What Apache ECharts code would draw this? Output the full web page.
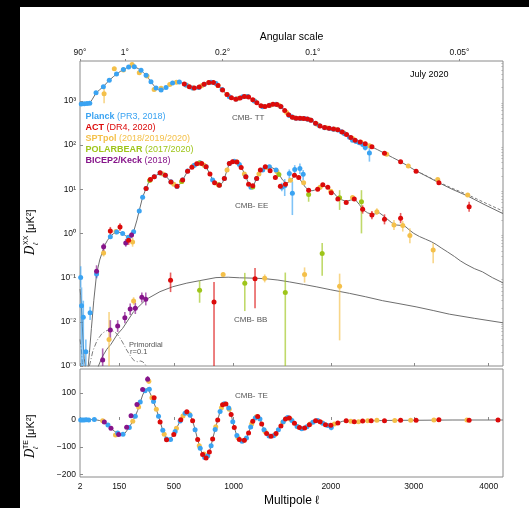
<!DOCTYPE html>
<html><head><meta charset="utf-8">
<script src="https://cdn.jsdelivr.net/npm/echarts@6/dist/echarts.min.js"></script>
<style>html,body{margin:0;padding:0;background:#fff;}#c{width:529px;height:508px;}</style>
</head><body><div id="c"></div>
<script>
// Multipole axis is drawn on an l^0.7 stretch so low and high l both get room.
const POW = 0.7;
const fx = l => Math.pow(l, POW);
const L_MIN = 2, L_MAX = 4200;
const L_TICKS = [2, 150, 500, 1000, 2000, 3000, 4000];
const ANGLE_LABELS = ['90°', '1°', '0.2°', '0.1°', '0.05°'];
const ANGLE_L = [2, 180, 900, 1800, 3600];
const LOG_TICKS = [1e-3, 1e-2, 1e-1, 1, 10, 100, 1000];
const TE_TICKS = [-200, -100, 0, 100];

const COL = { planck: '#3aa3f2', act: '#dc0a0a', spt: '#f4c04a', pb: '#9ec51a', bk: '#86148a' };

// ---- theory spectra [l, D_l] ----
const TT_TH = [[2,860],[5,850],[10,860],[18,870],[25,900],[32,1050],[46,1500],[60,1780],[75,2100],[90,2550],[101,2900],[120,3500],[136,4000],[155,4600],[172,5100],[190,5550],[205,5800],[222,5900],[240,5750],[258,5350],[275,4900],[290,4350],[307,3800],[323,3200],[339,2700],[356,2250],[373,1950],[390,1780],[408,1740],[425,1820],[443,1980],[465,2250],[491,2500],[515,2620],[542,2650],[568,2500],[593,2300],[620,2080],[646,1950],[670,1940],[695,2020],[720,2200],[742,2380],[770,2550],[799,2620],[820,2580],[842,2450],[870,2100],[896,1800],[930,1450],[961,1250],[990,1130],[1023,1090],[1055,1150],[1085,1230],[1110,1250],[1132,1240],[1165,1130],[1196,1000],[1240,830],[1277,740],[1310,750],[1344,790],[1380,830],[1411,830],[1440,790],[1461,740],[1500,600],[1548,470],[1580,425],[1618,405],[1665,400],[1710,395],[1745,385],[1780,365],[1830,310],[1873,270],[1930,248],[1985,238],[2030,230],[2080,220],[2120,200],[2157,183],[2214,155],[2292,125],[2391,108],[2471,92],[2550,78],[2633,65],[2733,52],[2833,42],[2930,33],[3029,26],[3180,19],[3325,14],[3500,10],[3711,7.0],[3950,4.4],[4200,2.8]];
// high-l tail of the alternative TT model (dashed)
const TT_TH_ALT = [[3029,26.2],[3180,19.3],[3325,14.4],[3500,10.5],[3711,7.5],[3950,4.9],[4200,3.2]];
const EE_TH = [[2,0.055],[3,0.04],[4,0.025],[5,0.015],[6,0.008],[8,0.003],[10,0.0015],[12,0.0011],[14,0.0006],[17,0.0005],[20,0.0009],[24,0.002],[30,0.007],[38,0.03],[48,0.12],[60,0.25],[79,0.52],[93,0.7],[106,0.85],[120,0.98],[137,1.07],[155,1.05],[168,1.0],[185,0.88],[200,0.82],[215,0.88],[230,1.1],[250,2.0],[264,3.3],[285,6.6],[307,10.4],[328,15.5],[361,19.5],[401,23],[438,20.5],[479,14.6],[505,12],[524,11.6],[545,12.8],[567,16],[606,25.5],[660,35],[706,39.5],[757,32],[790,22],[813,16.2],[840,13],[871,12.4],[900,14],[916,17.5],[940,27],[961,38],[985,42.5],[1006,43],[1030,41],[1053,36],[1085,27],[1114,19],[1140,13.5],[1163,11.2],[1190,12.5],[1218,17.5],[1250,24],[1277,27.5],[1310,31],[1344,32],[1380,30],[1411,27],[1445,21],[1479,16],[1516,13.5],[1560,15.5],[1602,20],[1630,20],[1655,17.5],[1690,13.5],[1720,11],[1754,9.5],[1790,9.2],[1817,9.5],[1860,11],[1910,12.3],[1950,11.3],[1985,10.2],[2030,8.4],[2068,6.8],[2120,5.8],[2176,5.3],[2230,5.7],[2282,5.8],[2330,4.5],[2369,3.5],[2430,2.9],[2491,2.7],[2572,2.9],[2620,2.5],[2655,2.2],[2720,1.75],[2778,1.55],[2860,1.5],[2900,1.4],[2942,1.2],[3000,1.0],[3072,0.85],[3150,0.74],[3225,0.65],[3290,0.56],[3355,0.47],[3440,0.38],[3532,0.3],[3610,0.24],[3688,0.2],[3800,0.16],[3913,0.135],[4050,0.1],[4200,0.076]];
const BB_LENS = [[40,0.0006],[55,0.001],[70,0.0016],[90,0.0024],[109,0.0031],[140,0.0052],[168,0.0071],[230,0.017],[307,0.032],[400,0.048],[491,0.062],[600,0.075],[701,0.085],[842,0.1],[950,0.102],[1053,0.099],[1200,0.097],[1311,0.094],[1430,0.088],[1548,0.080],[1700,0.07],[1836,0.062],[2000,0.053],[2214,0.044],[2400,0.037],[2611,0.030],[2800,0.026],[3029,0.0218],[3250,0.018],[3463,0.0149],[3800,0.012],[4200,0.0095]];
const BB_PRIM_LOW = [[2,0.004],[4,0.0025],[6,0.0012],[8,0.0007]];
const BB_PRIM = [[20,0.0006],[24,0.001],[35,0.0022],[50,0.0038],[70,0.0055],[86,0.0062],[100,0.0066],[115,0.0064],[135,0.0055],[150,0.0046],[170,0.0033],[190,0.0023],[215,0.0016],[235,0.0013],[254,0.00125],[270,0.0013],[285,0.00125],[300,0.0011],[315,0.0009]];
const TE_TH = [[2,0],[10,0.5],[20,1],[30,2],[45,1],[60,-2],[79,-8],[95,-18],[109,-30],[125,-41],[142,-49],[165,-53],[180,-49],[190,-42],[205,-27],[224,-5],[240,15],[254,35],[270,65],[285,92],[300,110],[317,118],[328,112],[339,92],[356,68],[373,42],[390,15],[401,-5],[415,-30],[431,-53],[446,-70],[462,-76],[476,-72],[491,-59],[510,-42],[529,-22],[548,-3],[567,14],[586,26],[606,30],[626,18],[646,-3],[666,-35],[687,-72],[708,-105],[728,-127],[745,-140],[757,-141],[771,-134],[785,-118],[800,-94],[813,-70],[835,-34],[857,0],[878,32],[900,55],[915,61],[930,59],[955,45],[977,20],[992,-5],[1006,-28],[1030,-58],[1053,-72],[1078,-77],[1100,-75],[1120,-65],[1140,-48],[1160,-25],[1180,-5],[1205,8],[1228,13],[1250,5],[1267,-15],[1290,-35],[1316,-50],[1340,-58],[1360,-60],[1385,-57],[1411,-50],[1435,-35],[1461,-22],[1485,-6],[1508,4],[1530,8],[1548,7],[1575,-2],[1602,-12],[1630,-23],[1655,-28],[1680,-31],[1710,-29],[1735,-24],[1762,-17],[1800,-8],[1830,-3],[1853,-2],[1880,-6],[1910,-12],[1940,-17],[1966,-20],[2000,-19],[2040,-15],[2080,-11],[2130,-5],[2176,-3],[2220,-5],[2270,-6],[2320,-6],[2369,-4],[2471,-3],[2600,-2],[2800,-1],[3000,-1],[3500,0],[4200,0]];

// ---- band powers [l, D, lo, hi] (lo/hi only where a bar is visible) ----
const PLANCK_TT = [[4,850],[10,860],[17,870],[25,885],[46,1510],[75,2090],[101,2930],[136,4020],[172,5130],[201,5780],[234,5860],[275,4930],[307,3790],[339,2710],[373,1940],[408,1745],[443,1985],[491,2510],[542,2660],[593,2290],[646,1950],[695,2010],[742,2370],[799,2610],[842,2460],[896,1790],[961,1240],[1023,1095],[1085,1235],[1132,1245],[1196,995],[1277,735],[1344,795],[1411,835],[1461,735],[1548,465],[1580,428],[1618,402],[1665,398],[1710,396],[1745,382],[1780,362],[1830,308],[1873,272],[1930,246],[1985,236],[2030,228],[2080,218],[2120,198],[2157,180],[2214,150],[2250,128],[2292,120],[2330,112],[2370,102],[2400,88,75,100],[2450,66,42,92]];
const ACT_TT = [[580,2400],[620,2080],[660,1940],[700,2040],[740,2360],[780,2580],[820,2580],[860,2230],[900,1760],[940,1380],[980,1170],[1020,1090],[1060,1160],[1100,1245],[1140,1220],[1180,1060],[1220,905],[1260,770],[1300,745],[1340,785],[1380,830],[1420,825],[1460,742],[1500,600],[1540,485],[1580,425],[1620,405],[1660,400],[1700,396],[1740,387],[1780,365],[1830,310],[1880,268],[1930,248],[1980,239],[2030,230],[2080,220],[2130,196],[2180,172],[2230,148],[2280,128],[2340,117],[2400,107],[2480,91],[2633,65],[2833,42],[3029,25.5],[3325,14],[3730,4.0,3.1,5.2]];
const SPT_TT = [[78,1450,880,1900],[125,5300],[172,4950],[221,6600],[264,4300],[313,3620],[360,1810],[408,1910],[470,2350],[520,2620],[600,2250],[650,1950],[720,2200],[780,2560],[860,2230],[940,1390],[1040,1120],[1120,1250],[1200,990],[1280,740],[1360,805],[1440,790],[1520,540],[1600,412],[1680,398],[1760,378],[1850,290],[1950,244],[2050,226],[2150,186],[2250,140],[2350,115],[2450,96],[2660,62],[2930,33.4],[3310,16.6],[3711,7.4]];

const PLANCK_EE = [[3,0.1,0.06,0.18],[4.5,0.023,0.0005,0.06],[8,0.0126,0.0005,0.03],[14,0.0021,0.0005,0.004],[26,0.016,0.011,0.022],[48,0.12,0.095,0.15],[106,0.84],[137,1.07],[168,1.0],[200,0.82],[230,1.09],[264,3.2],[285,6.6],[307,10.4],[361,19.2],[401,23.3],[438,20.6],[479,14.7],[524,11.5],[567,16.1],[606,25.7],[660,35],[706,39.5],[757,32],[813,16.2],[871,12.4],[916,17.4],[961,38],[1006,43],[1053,36.4],[1114,19],[1163,11],[1218,17.5],[1277,27],[1344,32],[1411,27],[1470,11,9,14],[1500,12,7,17],[1548,22.6,17,28],[1580,8.1,2.6,15],[1605,28,21,35],[1660,29.5,22,38],[1695,21.8,16,27]];
const ACT_EE = [[106,1.13,0.92,1.4],[154,1.4,1.15,1.7],[201,0.7,0.55,0.85],[307,10.3],[335,16.5],[361,19.2],[401,23.5],[438,20.8],[479,14.6],[524,11.6],[567,16.2],[606,25.6],[640,31.5],[680,37.5],[720,38],[757,32],[790,22],[830,14],[871,12.3],[916,17.4],[961,38],[990,42],[1030,41],[1070,31],[1114,19],[1140,13],[1180,12],[1218,17.4],[1254,27],[1303,32],[1351,26],[1404,18.4],[1455,11.7],[1508,13],[1602,20.8],[1647,18.4],[1754,9.5],[1853,10],[1910,12.6],[1966,11],[2005,8.3],[2080,6.0],[2176,5.0],[2270,6.0],[2369,3.5,2.8,4.3],[2480,2.6,2.1,3.2],[2633,2.1,1.6,2.7],[2833,2.2,1.7,2.9]];
const SPT_EE = [[76,0.36,0.3,0.43],[133,1.1,0.95,1.25],[224,0.64,0.5,0.8],[335,16.5],[420,22],[500,13],[560,15],[650,33.5],[740,35],[860,12.7],[940,27],[1030,41],[1100,22],[1240,22],[1320,31],[1420,25],[1560,16],[1700,14],[1880,11],[2000,9],[2250,6.5],[2540,3.1,2.6,3.7],[2750,1.55,1.2,2],[2860,1.5,1.1,1.9],[2950,0.9,0.6,1.3],[3250,0.42,0.21,0.6]];
const PB_EE = [[330,15.8],[560,15],[700,39],[870,12.4],[1180,11.2],[1440,21.5],[1754,7.6,5.2,8.7],[2100,6.4,3.4,9.5],[2355,5.2,1.0,9.5]];
const BK_EE = [[48,0.14,0.1,0.19],[76,0.5,0.4,0.6],[185,0.61,0.5,0.75],[218,0.92,0.78,1.08]];

const ACT_BB = [[476,0.087,0.047,0.13],[825,0.028,0.0005,0.08],[1202,0.0945,0.0203,0.164]];
const SPT_BB = [[100,0.004,0.0005,0.0167],[230,0.0296,0.0242,0.036],[905,0.118,0.105,0.13],[1297,0.097,0.078,0.118],[1710,0.118,0.077,0.17],[2100,0.064,0.0038,0.123]];
const PB_BB = [[703,0.052,0.027,0.085],[1104,0.074,0.0175,0.128],[1506,0.046,0.0005,0.13],[1903,0.35,0.11,0.61]];
const BK_BB = [[72,0.00136,0.0005,0.0025],[106,0.0065,0.0037,0.0109],[142,0.008,0.0059,0.0109],[180,0.0124,0.0093,0.0167],[210,0.0194,0.0142,0.026],[240,0.0202,0.015,0.027],[280,0.0357,0.0274,0.046],[305,0.0325,0.0235,0.046]];

const PLANCK_TE = [[3,0],[6,0],[10,0],[15,1],[22,0],[40,2],[95,-18],[142,-48],[170,-52],[205,-28],[240,14],[270,66],[300,108],[328,113],[356,68],[390,14],[420,-38],[446,-70],[476,-72],[510,-42],[548,-4],[586,25],[626,18],[666,-36],[708,-104],[745,-138],[771,-132],[800,-95],[835,-35],[878,31],[915,60],[955,44],[992,-6],[1030,-57],[1078,-78],[1120,-66],[1160,-26],[1205,7],[1250,4],[1290,-36],[1340,-59],[1385,-58],[1435,-36],[1485,-6],[1530,9],[1575,-2],[1630,-24],[1680,-32],[1735,-25],[1800,-8],[1853,-2],[1910,-12],[1966,-20],[2005,-28,-38,-18]];
const ACT_TE = [[360,82],[401,-7],[447,-73],[500,-53],[553,1],[600,30],[646,-3],[687,-72],[728,-127],[757,-140],[785,-118],[813,-70],[857,0],[900,56],[930,59],[977,20],[1006,-28],[1053,-72],[1100,-75],[1140,-48],[1180,-5],[1228,13],[1267,-15],[1316,-50],[1360,-60],[1411,-50],[1461,-22],[1508,4],[1548,7],[1602,-12],[1655,-28],[1710,-29],[1762,-17],[1830,-3],[1880,-6],[1940,-17],[2000,-19],[2080,-11],[2176,-3],[2270,-6],[2369,-4],[2471,-3],[2633,-3],[2833,-1],[3029,-1],[3325,1],[3730,-1],[4130,0]];
const SPT_TE = [[72,-3],[131,-55],[225,-5],[260,48],[325,143,133,153],[345,82],[375,40],[430,-52],[520,-30],[570,15],[620,22],[700,-95],[740,-125],[770,-133],[840,-25],[890,45],[960,40],[1040,-65],[1090,-76],[1170,-15],[1215,12],[1300,-42],[1400,-54],[1480,-8],[1560,3],[1640,-25],[1770,-15],[1900,-10],[2040,-15],[2230,-5],[2320,-6],[2430,-3],[2540,-1],[2760,-2],[2960,-1],[3260,0],[3700,0]];
const BK_TE = [[79,-7],[109,-30],[147,-53],[190,-27],[215,16],[250,57],[285,112],[317,150,138,162]];

const LEGEND = [
  ['Planck', '(PR3, 2018)', COL.planck],
  ['ACT', '(DR4, 2020)', COL.act],
  ['SPTpol', '(2018/2019/2020)', COL.spt],
  ['POLARBEAR', '(2017/2020)', COL.pb],
  ['BICEP2/Keck', '(2018)', COL.bk]
];

const FONT = 'Liberation Sans';
const SUP = {'0':'⁰','1':'¹','2':'²','3':'³','-':'⁻'};
const supStr = s => String(s).split('').map(c => SUP[c] || c).join('');

function line(data, yi, gridTop, style) {
  return { type: 'line', xAxisIndex: gridTop ? 0 : 2, yAxisIndex: yi, showSymbol: false, silent: true,
    data: data.map(p => [fx(p[0]), p[1]]), z: 2, clip: true,
    lineStyle: Object.assign({ color: '#6e6e6e', width: 1 }, style || {}) };
}
function bars(data, color, yi, gridTop) {
  return { type: 'custom', xAxisIndex: gridTop ? 0 : 2, yAxisIndex: yi, silent: true, clip: true, z: 3,
    data: data.filter(p => p.length > 2).map(p => [fx(p[0]), p[2], p[3]]),
    renderItem: (params, api) => {
      const a = api.coord([api.value(0), api.value(1)]);
      const b = api.coord([api.value(0), api.value(2)]);
      return { type: 'line', shape: { x1: a[0], y1: a[1], x2: b[0], y2: b[1] },
        style: { stroke: color, lineWidth: 1.6, opacity: 0.65 } };
    } };
}
function pts(data, color, yi, gridTop, z) {
  return { type: 'scatter', xAxisIndex: gridTop ? 0 : 2, yAxisIndex: yi, silent: true, clip: true, z: z,
    symbolSize: 5, data: data.map(p => [fx(p[0]), p[1]]), itemStyle: { color: color, opacity: 1 } };
}

const series = [];
series.push(line(TT_TH, 0, true), line(TT_TH_ALT, 0, true, { type: [3, 2], width: 0.9 }),
  line(EE_TH, 0, true), line(BB_LENS, 0, true),
  line(BB_PRIM_LOW, 0, true, { type: [5, 2, 1, 2], width: 0.9 }), line(BB_PRIM, 0, true, { type: [5, 2, 1, 2], width: 0.9 }),
  line(TE_TH, 2, false));
const groups = [
  [[SPT_TT, SPT_EE, SPT_BB, SPT_TE], COL.spt, 4],
  [[PLANCK_TT, PLANCK_EE, [], PLANCK_TE], COL.planck, 5],
  [[[], PB_EE, PB_BB, []], COL.pb, 6],
  [[[], BK_EE, BK_BB, BK_TE], COL.bk, 7],
  [[ACT_TT, ACT_EE, ACT_BB, ACT_TE], COL.act, 8]
];
groups.forEach(([sets, color, z]) => {
  sets.forEach((d, i) => {
    if (!d.length) return;
    const top = i < 3;
    const yi = top ? 0 : 2;
    series.push(bars(d, color, yi, top));
    series.push(pts(d, color, yi, top, z));
  });
});

const minorLog = [];
for (let e = -3; e <= 3; e++) for (let m = 2; m <= 9; m++) { const v = m * Math.pow(10, e); if (v < 7943) minorLog.push(v); }

const xBase = { type: 'value', min: fx(L_MIN), max: fx(L_MAX), splitLine: { show: false }, axisLine: { show: false } };
const tickStyle = { lineStyle: { color: '#8a8a8a', width: 1 } };
const labelFont = { color: '#111', fontFamily: FONT, fontSize: 8.5 };
const greyText = (x, y, t, size) => ({ type: 'text', x: x, y: y, silent: true,
  style: { text: t, fill: '#555', font: `${size || 8}px ${FONT}`, verticalAlign: 'middle' } });

const option = {
  backgroundColor: '#fff',
  animation: false,
  grid: [
    { left: 80, top: 61, width: 423, height: 305, show: true, borderColor: '#8a8a8a', borderWidth: 1, backgroundColor: 'transparent' },
    { left: 80, top: 369, width: 423, height: 114, show: true, borderColor: '#8a8a8a', borderWidth: 1, backgroundColor: 'transparent' }
  ],
  xAxis: [
    Object.assign({}, xBase, { gridIndex: 0, position: 'bottom',
      axisTick: Object.assign({ inside: true, length: 3, customValues: L_TICKS.map(fx) }, tickStyle),
      axisLabel: { show: false } }),
    Object.assign({}, xBase, { gridIndex: 0, position: 'top',
      name: 'Angular scale', nameLocation: 'middle', nameGap: 16,
      nameTextStyle: { color: '#000', fontFamily: FONT, fontSize: 10.5 },
      axisTick: Object.assign({ inside: false, length: 2, customValues: ANGLE_L.map(fx) }, tickStyle),
      axisLabel: Object.assign({ margin: 4, customValues: ANGLE_L.map(fx),
        formatter: v => { const i = ANGLE_L.findIndex(l => Math.abs(fx(l) - v) < 1e-6); return i < 0 ? '' : ANGLE_LABELS[i]; } }, labelFont) }),
    Object.assign({}, xBase, { gridIndex: 1, position: 'bottom',
      name: 'Multipole ℓ', nameLocation: 'middle', nameGap: 18,
      nameTextStyle: { color: '#000', fontFamily: FONT, fontSize: 12 },
      axisTick: Object.assign({ inside: true, length: 3, customValues: L_TICKS.map(fx) }, tickStyle),
      axisLabel: Object.assign({ margin: 5, customValues: L_TICKS.map(fx),
        formatter: v => { const i = L_TICKS.findIndex(l => Math.abs(fx(l) - v) < 1e-6); return i < 0 ? '' : String(L_TICKS[i]); } }, labelFont) })
  ],
  yAxis: [
    { type: 'log', gridIndex: 0, min: 1e-3, max: 7943, splitLine: { show: false }, axisLine: { show: false },
      axisTick: Object.assign({ inside: true, length: 3, customValues: LOG_TICKS }, tickStyle),
      axisLabel: Object.assign({ margin: 4, customValues: LOG_TICKS,
        formatter: v => '10' + supStr(Math.round(Math.log10(v))) }, labelFont) },
    { type: 'log', gridIndex: 0, min: 1e-3, max: 7943, splitLine: { show: false }, axisLine: { show: false },
      axisTick: Object.assign({ inside: true, length: 1.5, customValues: minorLog }, { lineStyle: { color: '#aaa', width: 1 } }),
      axisLabel: { show: false } },
    { type: 'value', gridIndex: 1, min: -210, max: 188, splitLine: { show: false }, axisLine: { show: false },
      axisTick: Object.assign({ inside: true, length: 3, customValues: TE_TICKS }, tickStyle),
      axisLabel: Object.assign({ margin: 4, customValues: TE_TICKS,
        formatter: v => (v < 0 ? '−' + Math.abs(v) : String(v)) }, labelFont) }
  ],
  graphic: [
    { type: 'rect', shape: { x: 0, y: 0, width: 529, height: 7 }, style: { fill: '#000' }, silent: true },
    { type: 'rect', shape: { x: 0, y: 0, width: 20, height: 508 }, style: { fill: '#000' }, silent: true },
    { type: 'text', x: 410, y: 75, silent: true, style: { text: 'July 2020', fill: '#000', font: `9px ${FONT}`, verticalAlign: 'middle' } },
    greyText(232, 118, 'CMB- TT'), greyText(235, 206, 'CMB- EE'), greyText(234, 320, 'CMB- BB'), greyText(235, 396, 'CMB- TE'),
    greyText(129, 345, 'Primordial', 7.5), greyText(130, 352, 'r=0.1', 7.5),
    ...LEGEND.map((it, i) => ({ type: 'text', x: 85.5, y: 116.7 + i * 10.9, silent: true,
      style: { text: `{b|${it[0]}} ${it[1]}`, fill: it[2], font: `9px ${FONT}`, verticalAlign: 'middle',
        rich: { b: { fontWeight: 'bold', fill: it[2], fontSize: 9, fontFamily: FONT } } } })),
    { type: 'group', x: 31, y: 217, rotation: Math.PI / 2, silent: true, children: [
      { type: 'text', x: -38, y: 0, style: { text: 'D', font: `italic 12px DejaVu Serif`, fill: '#000', verticalAlign: 'middle' } },
      { type: 'text', x: -28, y: -5, style: { text: 'XX', font: `7px ${FONT}`, fill: '#000', verticalAlign: 'middle' } },
      { type: 'text', x: -28, y: 5, style: { text: 'ℓ', font: `italic 7px ${FONT}`, fill: '#000', verticalAlign: 'middle' } },
      { type: 'text', x: -16, y: 0, style: { text: '[μK²]', font: `11px ${FONT}`, fill: '#000', verticalAlign: 'middle' } }
    ] },
    { type: 'group', x: 31, y: 430, rotation: Math.PI / 2, silent: true, children: [
      { type: 'text', x: -28, y: 0, style: { text: 'D', font: `italic 12px DejaVu Serif`, fill: '#000', verticalAlign: 'middle' } },
      { type: 'text', x: -19, y: -5, style: { text: 'TE', font: `7px ${FONT}`, fill: '#000', verticalAlign: 'middle' } },
      { type: 'text', x: -19, y: 5, style: { text: 'ℓ', font: `italic 7px ${FONT}`, fill: '#000', verticalAlign: 'middle' } },
      { type: 'text', x: -8, y: 0, style: { text: '[μK²]', font: `11px ${FONT}`, fill: '#000', verticalAlign: 'middle' } }
    ] }
  ],
  series: series
};

const chart = echarts.init(document.getElementById('c'), null, { renderer: 'canvas' });
chart.setOption(option);
</script>
</body></html>
